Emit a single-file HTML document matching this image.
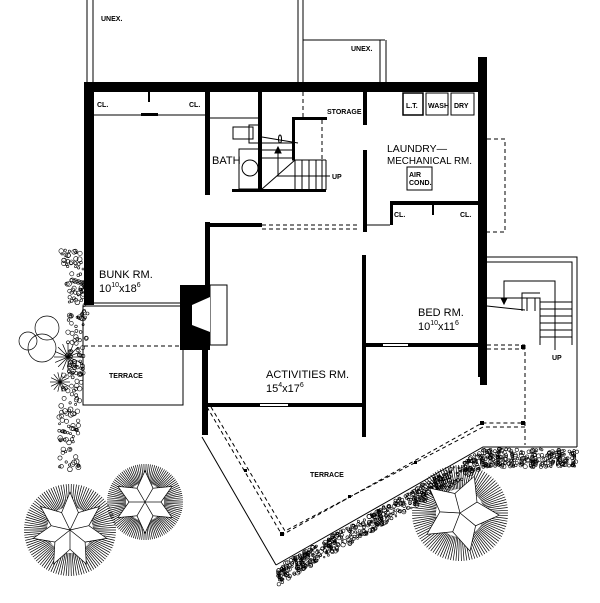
<!DOCTYPE html>
<html><head><meta charset="utf-8"><style>
html,body{margin:0;padding:0;background:#fff}
svg{display:block}
text{font-family:"Liberation Sans",sans-serif;fill:#000}
.s{font-size:7px;font-weight:bold}
.m{font-size:11px}
</style></head><body>
<svg id="sv" width="600" height="603" viewBox="0 0 600 603" xmlns="http://www.w3.org/2000/svg">
<g stroke="#000" fill="none" stroke-width="1">
<line x1="87" y1="0" x2="87" y2="82"/><line x1="93" y1="0" x2="93" y2="82"/>
<line x1="298" y1="0" x2="298" y2="82"/><line x1="303" y1="0" x2="303" y2="82"/>
<line x1="303" y1="40" x2="385" y2="40"/>
<line x1="380" y1="40" x2="380" y2="82"/><line x1="386" y1="40" x2="386" y2="82"/>
<line x1="94" y1="115" x2="205" y2="115"/>
<line x1="210" y1="118" x2="258" y2="118"/>
<line x1="363" y1="225" x2="390" y2="225"/>
<rect x="233" y="127" width="20" height="12"/><rect x="249" y="125" width="12" height="18"/>
<rect x="239" y="149" width="22" height="40"/><circle cx="250" cy="168" r="8"/>
<line x1="262" y1="143" x2="292" y2="143"/><line x1="262" y1="150" x2="292" y2="150"/>
<line x1="262" y1="158" x2="292" y2="158"/>
<line x1="262" y1="137" x2="298" y2="143"/>
<line x1="262" y1="189" x2="295" y2="160"/>
<line x1="295" y1="160" x2="295" y2="189"/>
<line x1="302" y1="160" x2="302" y2="189"/><line x1="309" y1="160" x2="309" y2="189"/>
<line x1="316" y1="160" x2="316" y2="189"/><line x1="322" y1="160" x2="322" y2="189"/>
<line x1="277" y1="176" x2="330" y2="176"/><line x1="278" y1="176" x2="278" y2="150"/>
<polygon points="278,147 275,153 281,153" fill="#000"/>
<ellipse cx="280" cy="139" rx="1.5" ry="4"/>
<line x1="292" y1="160" x2="326" y2="160"/>
<line x1="326" y1="160" x2="326" y2="190"/>
<rect x="403" y="93" width="20" height="22" stroke-width="1.5"/><rect x="426" y="93" width="22" height="22"/><rect x="451" y="93" width="23" height="22"/>
<rect x="407" y="167" width="25" height="23"/>
<rect x="210" y="285" width="17" height="60"/>
<rect x="83" y="306" width="100" height="99"/>
<line x1="94" y1="303" x2="180" y2="303"/>
<polyline points="487,257 577,257 577,345"/>
<polyline points="487,262 572,262 572,345"/>
<polyline points="487,298 540,298 540,345"/>
<line x1="540" y1="302" x2="572" y2="302"/><line x1="540" y1="309" x2="572" y2="309"/>
<line x1="540" y1="316" x2="572" y2="316"/><line x1="540" y1="323" x2="572" y2="323"/>
<line x1="540" y1="330" x2="572" y2="330"/><line x1="540" y1="337" x2="572" y2="337"/>
<polyline points="504,298 504,281 555,281 555,350"/>
<polyline points="522,311 522,293 540,293"/>
<polyline points="527,311 527,298 535,298 535,311"/>
<line x1="487" y1="306" x2="525" y2="310"/>
<polygon points="504,304 501,298 507,298" fill="#000"/>
<line x1="577" y1="345" x2="577" y2="447"/>
<polyline points="202,437 276,565"/>
<polyline points="276,565 483,447 577,447"/>
</g>
<g stroke="#000" fill="none" stroke-width="1" stroke-dasharray="4,3">
<line x1="303" y1="92" x2="303" y2="117"/>
<line x1="322" y1="120" x2="322" y2="160"/>
<line x1="262" y1="225" x2="360" y2="225"/><line x1="262" y1="229" x2="360" y2="229"/>
<polyline points="487,139 505,139 505,232 487,232"/>
<line x1="84" y1="346" x2="183" y2="346"/>
<polyline points="207,407 282,535 482,423 525,423"/>
<polyline points="211,407 285,531 483,427 525,427"/>
<line x1="525" y1="345" x2="525" y2="445"/><line x1="487" y1="345" x2="525" y2="345"/><line x1="487" y1="349" x2="525" y2="349"/>
</g>
<g fill="#000">
<rect x="84" y="82" width="396" height="10"/>
<rect x="478" y="57" width="9" height="320"/>
<rect x="84" y="82" width="10" height="223"/>
<rect x="205" y="92" width="5" height="103"/>
<rect x="258" y="92" width="4" height="99"/>
<rect x="232" y="189" width="94" height="3"/>
<rect x="292" y="117" width="35" height="3"/><rect x="292" y="117" width="3" height="43"/>
<rect x="363" y="92" width="4" height="33"/><rect x="363" y="150" width="4" height="82"/>
<rect x="390" y="201" width="88" height="4"/><rect x="390" y="201" width="3" height="24"/>
<rect x="205" y="223" width="57" height="4"/>
<rect x="205" y="222" width="5" height="68"/>
<rect x="180" y="285" width="30" height="65"/>
<rect x="202" y="345" width="6" height="90"/>
<rect x="205" y="403" width="160" height="4"/>
<rect x="362" y="255" width="4" height="182"/>
<rect x="363" y="343" width="117" height="4"/>
<rect x="148" y="92" width="2" height="10"/><rect x="141" y="113" width="17" height="3"/>
<rect x="432" y="205" width="2" height="10"/>
<rect x="480" y="345" width="7" height="40"/>
<rect x="521" y="345" width="4" height="4"/><rect x="521" y="421" width="4" height="4"/><rect x="480" y="421" width="4" height="4"/>
<rect x="280" y="532" width="4" height="4"/><rect x="244" y="469" width="3" height="3"/><rect x="348" y="495" width="3" height="3"/><rect x="414" y="461" width="3" height="3"/>
</g>
<g fill="#fff"><polygon points="210,297 192,305 192,325 210,332"/>
<rect x="383" y="344" width="25" height="2"/><rect x="260" y="404" width="28" height="2"/></g>
<g id="grav" fill="none" stroke="#000" stroke-width="0.6"></g>
<g id="trees" fill="none" stroke="#000" stroke-width="0.7"></g>
<text class="s" x="101" y="21">UNEX.</text>
<text class="s" x="351" y="51">UNEX.</text>
<text class="s" x="97" y="107">CL.</text>
<text class="s" x="189" y="107">CL.</text>
<text class="s" x="327" y="114">STORAGE</text>
<text class="m" x="212" y="164">BATH</text>
<text class="s" x="332" y="179">UP</text>
<text class="s" x="406" y="108">L.T.</text><text class="s" x="428" y="108">WASH</text><text class="s" x="454" y="108">DRY</text>
<text x="387" y="152" font-size="10" textLength="60" lengthAdjust="spacingAndGlyphs">LAUNDRY—</text>
<text x="387" y="164" font-size="10" textLength="85" lengthAdjust="spacingAndGlyphs">MECHANICAL RM.</text>
<text class="s" x="409" y="177">AIR</text><text class="s" x="409" y="185">COND.</text>
<text class="s" x="394" y="217">CL.</text><text class="s" x="460" y="217">CL.</text>
<text class="m" x="99" y="278">BUNK RM.</text>
<text class="m" x="99" y="292">10<tspan font-size="7" dy="-5">10</tspan><tspan dy="5">x18</tspan><tspan font-size="7" dy="-5">6</tspan></text>
<text class="m" x="418" y="316">BED RM.</text>
<text class="m" x="418" y="330">10<tspan font-size="7" dy="-5">10</tspan><tspan dy="5">x11</tspan><tspan font-size="7" dy="-5">6</tspan></text>
<text class="m" x="266" y="378">ACTIVITIES RM.</text>
<text class="m" x="266" y="392">15<tspan font-size="7" dy="-5">4</tspan><tspan dy="5">x17</tspan><tspan font-size="7" dy="-5">6</tspan></text>
<text class="s" x="109" y="378">TERRACE</text>
<text class="s" x="310" y="477">TERRACE</text>
<text class="s" x="552" y="360">UP</text>
</svg>
<script>
var NS="http://www.w3.org/2000/svg";
function el(p,t,a){var e=document.createElementNS(NS,t);for(var k in a)e.setAttribute(k,a[k]);p.appendChild(e);return e;}
var g=document.getElementById('grav'),T=document.getElementById('trees');
var seed=7;function r(){seed=(seed*9301+49297)%233280;return seed/233280;}
function band(x1,y1,x2,y2,n,w){for(var i=0;i<n;i++){var t=r();var x=x1+(x2-x1)*t,y=y1+(y2-y1)*t+r()*w;el(g,'circle',{cx:x.toFixed(1),cy:y.toFixed(1),r:(0.8+r()*1.4).toFixed(1)});}}
band(278,567,485,449,600,18);band(485,449,577,449,250,18);
for(var i=0;i<220;i++){var t=r();var y=245+t*225;var x=70+Math.sin(t*5)*8+(t>0.5?15*(t-0.5):0)+(r()-0.5)*20;el(g,'circle',{cx:x.toFixed(1),cy:y.toFixed(1),r:(1+r()*1.5).toFixed(1)});}
el(T,'circle',{cx:42,cy:348,r:14});el(T,'circle',{cx:28,cy:341,r:9});el(T,'circle',{cx:47,cy:328,r:12});
function burst(cx,cy,R,n){for(var i=0;i<n;i++){var a=i*2*Math.PI/n;el(T,'line',{x1:cx,y1:cy,x2:(cx+R*Math.cos(a)).toFixed(1),y2:(cy+R*Math.sin(a)).toFixed(1)});}}
burst(68,357,14,16);burst(60,382,10,14);
function tree(cx,cy,R,k,rot){var pts=[];for(var i=0;i<k*2;i++){var a=rot+i*Math.PI/k;var rr=i%2?R*0.42:R*0.82;pts.push((cx+rr*Math.cos(a)).toFixed(1)+','+(cy+rr*Math.sin(a)).toFixed(1));}
for(var i=0;i<110;i++){var a=i*2*Math.PI/110;var r1=R*0.5;el(T,'line',{x1:(cx+r1*Math.cos(a)).toFixed(1),y1:(cy+r1*Math.sin(a)).toFixed(1),x2:(cx+R*Math.cos(a)).toFixed(1),y2:(cy+R*Math.sin(a)).toFixed(1)});}
el(T,'polygon',{points:pts.join(' '),fill:'#fff'});for(var i=0;i<k;i++){var a=rot+i*2*Math.PI/k;el(T,'line',{x1:cx,y1:cy,x2:(cx+R*0.42*Math.cos(a+Math.PI/k)).toFixed(1),y2:(cy+R*0.42*Math.sin(a+Math.PI/k)).toFixed(1)});}}
tree(70,530,46,7,-1.57);tree(145,502,38,6,-1.57);tree(460,513,48,5,-1.2);
</script>
</body></html>
